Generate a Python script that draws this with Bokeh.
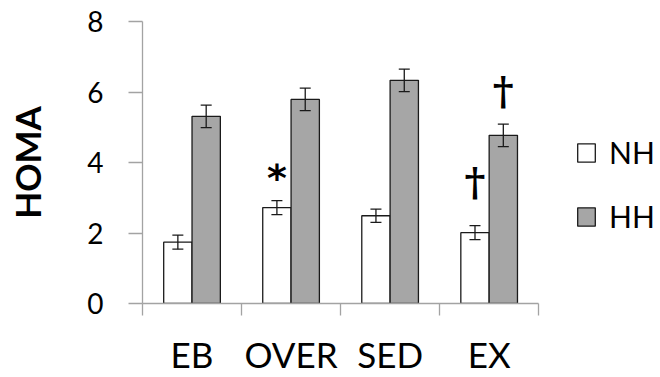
from bokeh.plotting import figure
from bokeh.models import (ColumnDataSource, FixedTicker, Whisker, TeeHead,
                          Legend, LegendItem, Range1d)
from bokeh.core.properties import value
from bokeh.embed import file_html
from bokeh.resources import INLINE

categories = ["EB", "OVER", "SED", "EX"]
series_names = ["NH", "HH"]
nh_mean = [1.74, 2.72, 2.49, 2.01]
nh_err = [0.20, 0.20, 0.19, 0.20]
hh_mean = [5.31, 5.79, 6.33, 4.77]
hh_err = [0.32, 0.32, 0.32, 0.32]
nh_sig = ["", "*", "", "\u2020"]
nh_sig_y = [0, 3.56, 0, 3.47]
hh_sig = ["", "", "", "\u2020"]
hh_sig_y = [0, 0, 0, 6.05]
y_ticks = [0, 2, 4, 6, 8]
y_title = "HOMA"

FONT = "Lato"
AXIS_GREY = "#a3a3a3"
BAR_W = 0.286
half = BAR_W / 2
X_END = 5.23  # frame extends to the right edge to hold the legend

centers = [i + 0.5 for i in range(len(categories))]
x_nh = [c - half for c in centers]
x_hh = [c + half for c in centers]

src_nh = ColumnDataSource(dict(x=x_nh, top=nh_mean,
                               up=[m + e for m, e in zip(nh_mean, nh_err)],
                               lo=[m - e for m, e in zip(nh_mean, nh_err)]))
src_hh = ColumnDataSource(dict(x=x_hh, top=hh_mean,
                               up=[m + e for m, e in zip(hh_mean, hh_err)],
                               lo=[m - e for m, e in zip(hh_mean, hh_err)]))

p = figure(width=660, height=377, x_range=Range1d(0, X_END), y_range=Range1d(0, 8),
           output_backend="svg", toolbar_location=None, title=None,
           min_border_left=142, min_border_right=0, min_border_top=21, min_border_bottom=73)
p.outline_line_color = None
p.grid.visible = False
p.background_fill_color = "white"

r_nh = p.vbar(x="x", top="top", width=BAR_W, source=src_nh, fill_color="white",
              line_color="#1a1a1a", line_width=1.3)
r_hh = p.vbar(x="x", top="top", width=BAR_W, source=src_hh, fill_color="#a6a6a6",
              line_color="#1a1a1a", line_width=1.3)

for src in (src_nh, src_hh):
    w = Whisker(source=src, base="x", upper="up", lower="lo", line_color="#1a1a1a", line_width=1.3,
                upper_head=TeeHead(size=11, line_color="#1a1a1a", line_width=1.3),
                lower_head=TeeHead(size=11, line_color="#1a1a1a", line_width=1.3))
    w.level = "overlay"
    p.add_layout(w)

# significance marks
sig_x, sig_y, sig_t = [], [], []
for xs, marks, ys in ((x_nh, nh_sig, nh_sig_y), (x_hh, hh_sig, hh_sig_y)):
    for xx, mk, yy in zip(xs, marks, ys):
        if mk:
            sig_x.append(xx); sig_y.append(yy); sig_t.append(mk)
star = [i for i, t in enumerate(sig_t) if t == "*"]
dag = [i for i, t in enumerate(sig_t) if t != "*"]
p.text(x=[sig_x[i] for i in star], y=[sig_y[i] for i in star], text=[sig_t[i] for i in star],
       text_font=value("DejaVu Sans"), text_font_style="bold", text_font_size="38px",
       text_align="center", text_baseline="middle", text_color="black")
p.text(x=[sig_x[i] for i in dag], y=[sig_y[i] for i in dag], text=[sig_t[i] for i in dag],
       text_font=value("DejaVu Serif"), text_font_style="bold", text_font_size="40px",
       text_align="center", text_baseline="middle", text_color="black")

# y axis
ya = p.yaxis[0]
ya.ticker = FixedTicker(ticks=y_ticks)
ya.axis_line_color = AXIS_GREY
ya.axis_line_width = 1.3
ya.major_tick_line_color = AXIS_GREY
ya.major_tick_line_width = 1.3
ya.major_tick_out = 14
ya.major_tick_in = 0
ya.minor_tick_line_color = None
ya.major_label_standoff = 25
ya.major_label_text_font = FONT
ya.major_label_text_font_size = "28px"
ya.major_label_text_color = "black"
ya.axis_label = y_title
ya.axis_label_standoff = 36
ya.axis_label_text_font = FONT
ya.axis_label_text_font_style = "bold"
ya.axis_label_text_font_size = "35px"
ya.axis_label_text_color = "black"

# x axis: labels at category centres, ticks at category boundaries
xa = p.xaxis[0]
xa.bounds = (0, len(categories))
xa.ticker = FixedTicker(ticks=centers, minor_ticks=list(range(len(categories) + 1)))
xa.axis_line_color = AXIS_GREY
xa.axis_line_width = 1.3
xa.major_tick_line_color = None
xa.major_tick_out = 0
xa.major_tick_in = 0
xa.minor_tick_line_color = AXIS_GREY
xa.minor_tick_line_width = 1.3
xa.minor_tick_out = 12
xa.minor_tick_in = 0
xa.major_label_overrides = {c: lab for c, lab in zip(centers, categories)}
xa.major_label_standoff = 17
xa.major_label_text_font = FONT
xa.major_label_text_font_size = "35px"
xa.major_label_text_color = "black"

legend = Legend(items=[LegendItem(label=series_names[0], renderers=[r_nh]),
                       LegendItem(label=series_names[1], renderers=[r_hh])],
                location=(433, 69), glyph_width=22, glyph_height=23, label_standoff=12,
                spacing=28, padding=0, margin=0, border_line_color=None,
                background_fill_alpha=0, label_text_font=FONT, label_text_font_size="30px",
                label_text_color="black")
p.add_layout(legend)

open("out.html", "w").write(file_html(p, INLINE))
